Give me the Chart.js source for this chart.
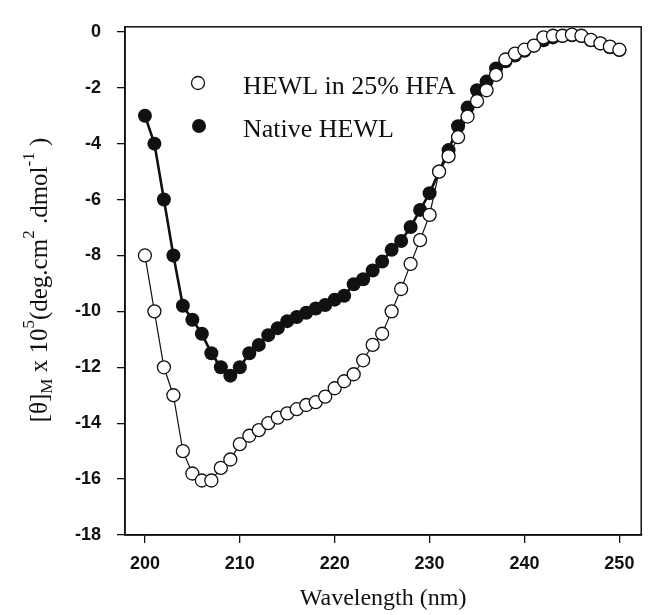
<!DOCTYPE html>
<html>
<head>
<meta charset="utf-8">
<script src="https://cdn.jsdelivr.net/npm/chart.js"></script>
<style>
  html, body { margin: 0; padding: 0; background: #fff; }
</style>
</head>
<body>
<canvas id="cd-chart" width="649" height="615"></canvas>
<script>
// wavelength (nm), one reading per nm
var wavelength = [200, 201, 202, 203, 204, 205, 206, 207, 208, 209,
                  210, 211, 212, 213, 214, 215, 216, 217, 218, 219,
                  220, 221, 222, 223, 224, 225, 226, 227, 228, 229,
                  230, 231, 232, 233, 234, 235, 236, 237, 238, 239,
                  240, 241, 242, 243, 244, 245, 246, 247, 248, 249, 250];

// HEWL in 25% HFA (open circles)
var hfaHewl = [-8.0, -10.0, -12.0, -13.0, -15.0, -15.8, -16.05, -16.05, -15.6, -15.3,
               -14.75, -14.45, -14.25, -14.0, -13.8, -13.65, -13.5, -13.35, -13.25, -13.05,
               -12.75, -12.5, -12.25, -11.75, -11.2, -10.8, -10.0, -9.2, -8.3, -7.45,
               -6.55, -5.0, -4.45, -3.77, -3.03, -2.48, -2.09, -1.54, -0.99, -0.78,
               -0.64, -0.49, -0.2, -0.14, -0.14, -0.1, -0.14, -0.29, -0.41, -0.53, -0.64];

// Native HEWL (filled circles)
var nativeHewl = [-3.0, -4.0, -6.0, -8.0, -9.8, -10.3, -10.8, -11.5, -12.0, -12.3,
                  -12.0, -11.5, -11.2, -10.85, -10.6, -10.35, -10.2, -10.05, -9.9, -9.77,
                  -9.58, -9.44, -9.03, -8.85, -8.54, -8.22, -7.8, -7.48, -6.98, -6.37,
                  -5.77, -5.0, -4.23, -3.38, -2.71, -2.09, -1.78, -1.31, -1.05, -0.85,
                  -0.68, -0.5, -0.3, -0.2, -0.15, -0.12, -0.15, -0.3, -0.42, -0.55, -0.65];

var xTicks = [200, 210, 220, 230, 240, 250];
var yTicks = [0, -2, -4, -6, -8, -10, -12, -14, -16, -18];

var seriesNames = ['HEWL in 25% HFA', 'Native HEWL'];

function toPoints(ys) {
    return wavelength.map(function(x, i) { return {x: x, y: ys[i]}; });
}

var INK = '#111';
var serif = '"Liberation Serif", "Times New Roman", serif';

// frame round the plot area
var framePlugin = {
    id: 'frame',
    afterDraw: function(chart) {
        var a = chart.chartArea, ctx = chart.ctx;
        ctx.save();
        ctx.strokeStyle = INK;
        ctx.lineWidth = 1.5;
        ctx.strokeRect(a.left, a.top, a.right - a.left, a.bottom - a.top);
        ctx.restore();
    }
};

// legend inside the plot
var legendPlugin = {
    id: 'innerLegend',
    afterDraw: function(chart) {
        var ctx = chart.ctx;
        ctx.save();
        ctx.lineWidth = 1.3;
        ctx.strokeStyle = INK;
        ctx.fillStyle = '#fff';
        ctx.beginPath(); ctx.arc(198, 83, 6.5, 0, Math.PI * 2); ctx.fill(); ctx.stroke();
        ctx.fillStyle = INK;
        ctx.beginPath(); ctx.arc(199, 126, 7, 0, Math.PI * 2); ctx.fill();
        ctx.font = '26px ' + serif;
        ctx.textBaseline = 'alphabetic';
        ctx.fillText(seriesNames[0], 243, 94);
        ctx.fillText(seriesNames[1], 243, 137);
        ctx.restore();
    }
};

// y axis title with sub/superscripts
var yTitlePlugin = {
    id: 'yTitle',
    afterDraw: function(chart) {
        var ctx = chart.ctx;
        var big = '25px ' + serif, small = '17px ' + serif;
        var parts = [
            ['[\u03B8]', big, 0], ['M', small, 5], [' x 10', big, 0], ['5', small, -13],
            ['(deg.cm', big, 0], ['2', small, -13], [' .dmol', big, 0], ['-1', small, -13],
            [' )', big, 0]
        ];
        ctx.save();
        var total = 0;
        parts.forEach(function(p) { ctx.font = p[1]; p.push(ctx.measureText(p[0]).width); total += p[3]; });
        ctx.translate(47, 280 + total / 2);
        ctx.rotate(-Math.PI / 2);
        ctx.fillStyle = INK;
        ctx.textBaseline = 'alphabetic';
        var x = 0;
        parts.forEach(function(p) {
            ctx.font = p[1];
            ctx.fillText(p[0], x, p[2]);
            x += p[3];
        });
        ctx.restore();
    }
};

new Chart(document.getElementById('cd-chart'), {
    type: 'scatter',
    data: {
        datasets: [{
            label: seriesNames[0],
            data: toPoints(hfaHewl),
            showLine: true,
            borderColor: INK,
            borderWidth: 1.2,
            pointRadius: 6.5,
            pointBorderWidth: 1.3,
            pointBackgroundColor: '#fff',
            pointBorderColor: INK
        }, {
            label: seriesNames[1],
            data: toPoints(nativeHewl),
            showLine: true,
            borderColor: INK,
            borderWidth: 2.6,
            pointRadius: 7,
            pointBorderWidth: 0,
            pointBackgroundColor: INK,
            pointBorderColor: INK
        }]
    },
    options: {
        responsive: false,
        animation: false,
        devicePixelRatio: 1,
        layout: { padding: { top: 16, right: 4, left: 0, bottom: 0 } },
        plugins: { legend: { display: false }, tooltip: { enabled: false } },
        scales: {
            x: {
                type: 'linear',
                min: 197.9,
                max: 252.3,
                afterBuildTicks: function(s) { s.ticks = xTicks.map(function(v) { return {value: v}; }); },
                afterFit: function(s) { s.height = 80; },
                grid: { drawOnChartArea: false, drawTicks: true, tickLength: 8, color: INK, lineWidth: 1.3 },
                border: { display: true, color: INK, width: 1.5 },
                ticks: { color: INK, padding: 10, maxRotation: 0,
                         font: { family: '"Liberation Sans", Arial, sans-serif', size: 18, weight: 'bold' } },
                title: { display: true, text: 'Wavelength (nm)', color: INK,
                         font: { family: serif, size: 24 }, padding: { top: 0, bottom: 2 } }
            },
            y: {
                type: 'linear',
                min: -18,
                max: 0.18,
                afterBuildTicks: function(s) { s.ticks = yTicks.map(function(v) { return {value: v}; }); },
                afterFit: function(s) { s.width = 125; },
                grid: { drawOnChartArea: false, drawTicks: true, tickLength: 8, color: INK, lineWidth: 1.3 },
                border: { display: true, color: INK, width: 1.5 },
                ticks: { color: INK, padding: 16,
                         font: { family: '"Liberation Sans", Arial, sans-serif', size: 18, weight: 'bold' } }
            }
        }
    },
    plugins: [framePlugin, legendPlugin, yTitlePlugin]
});
</script>
</body>
</html>
